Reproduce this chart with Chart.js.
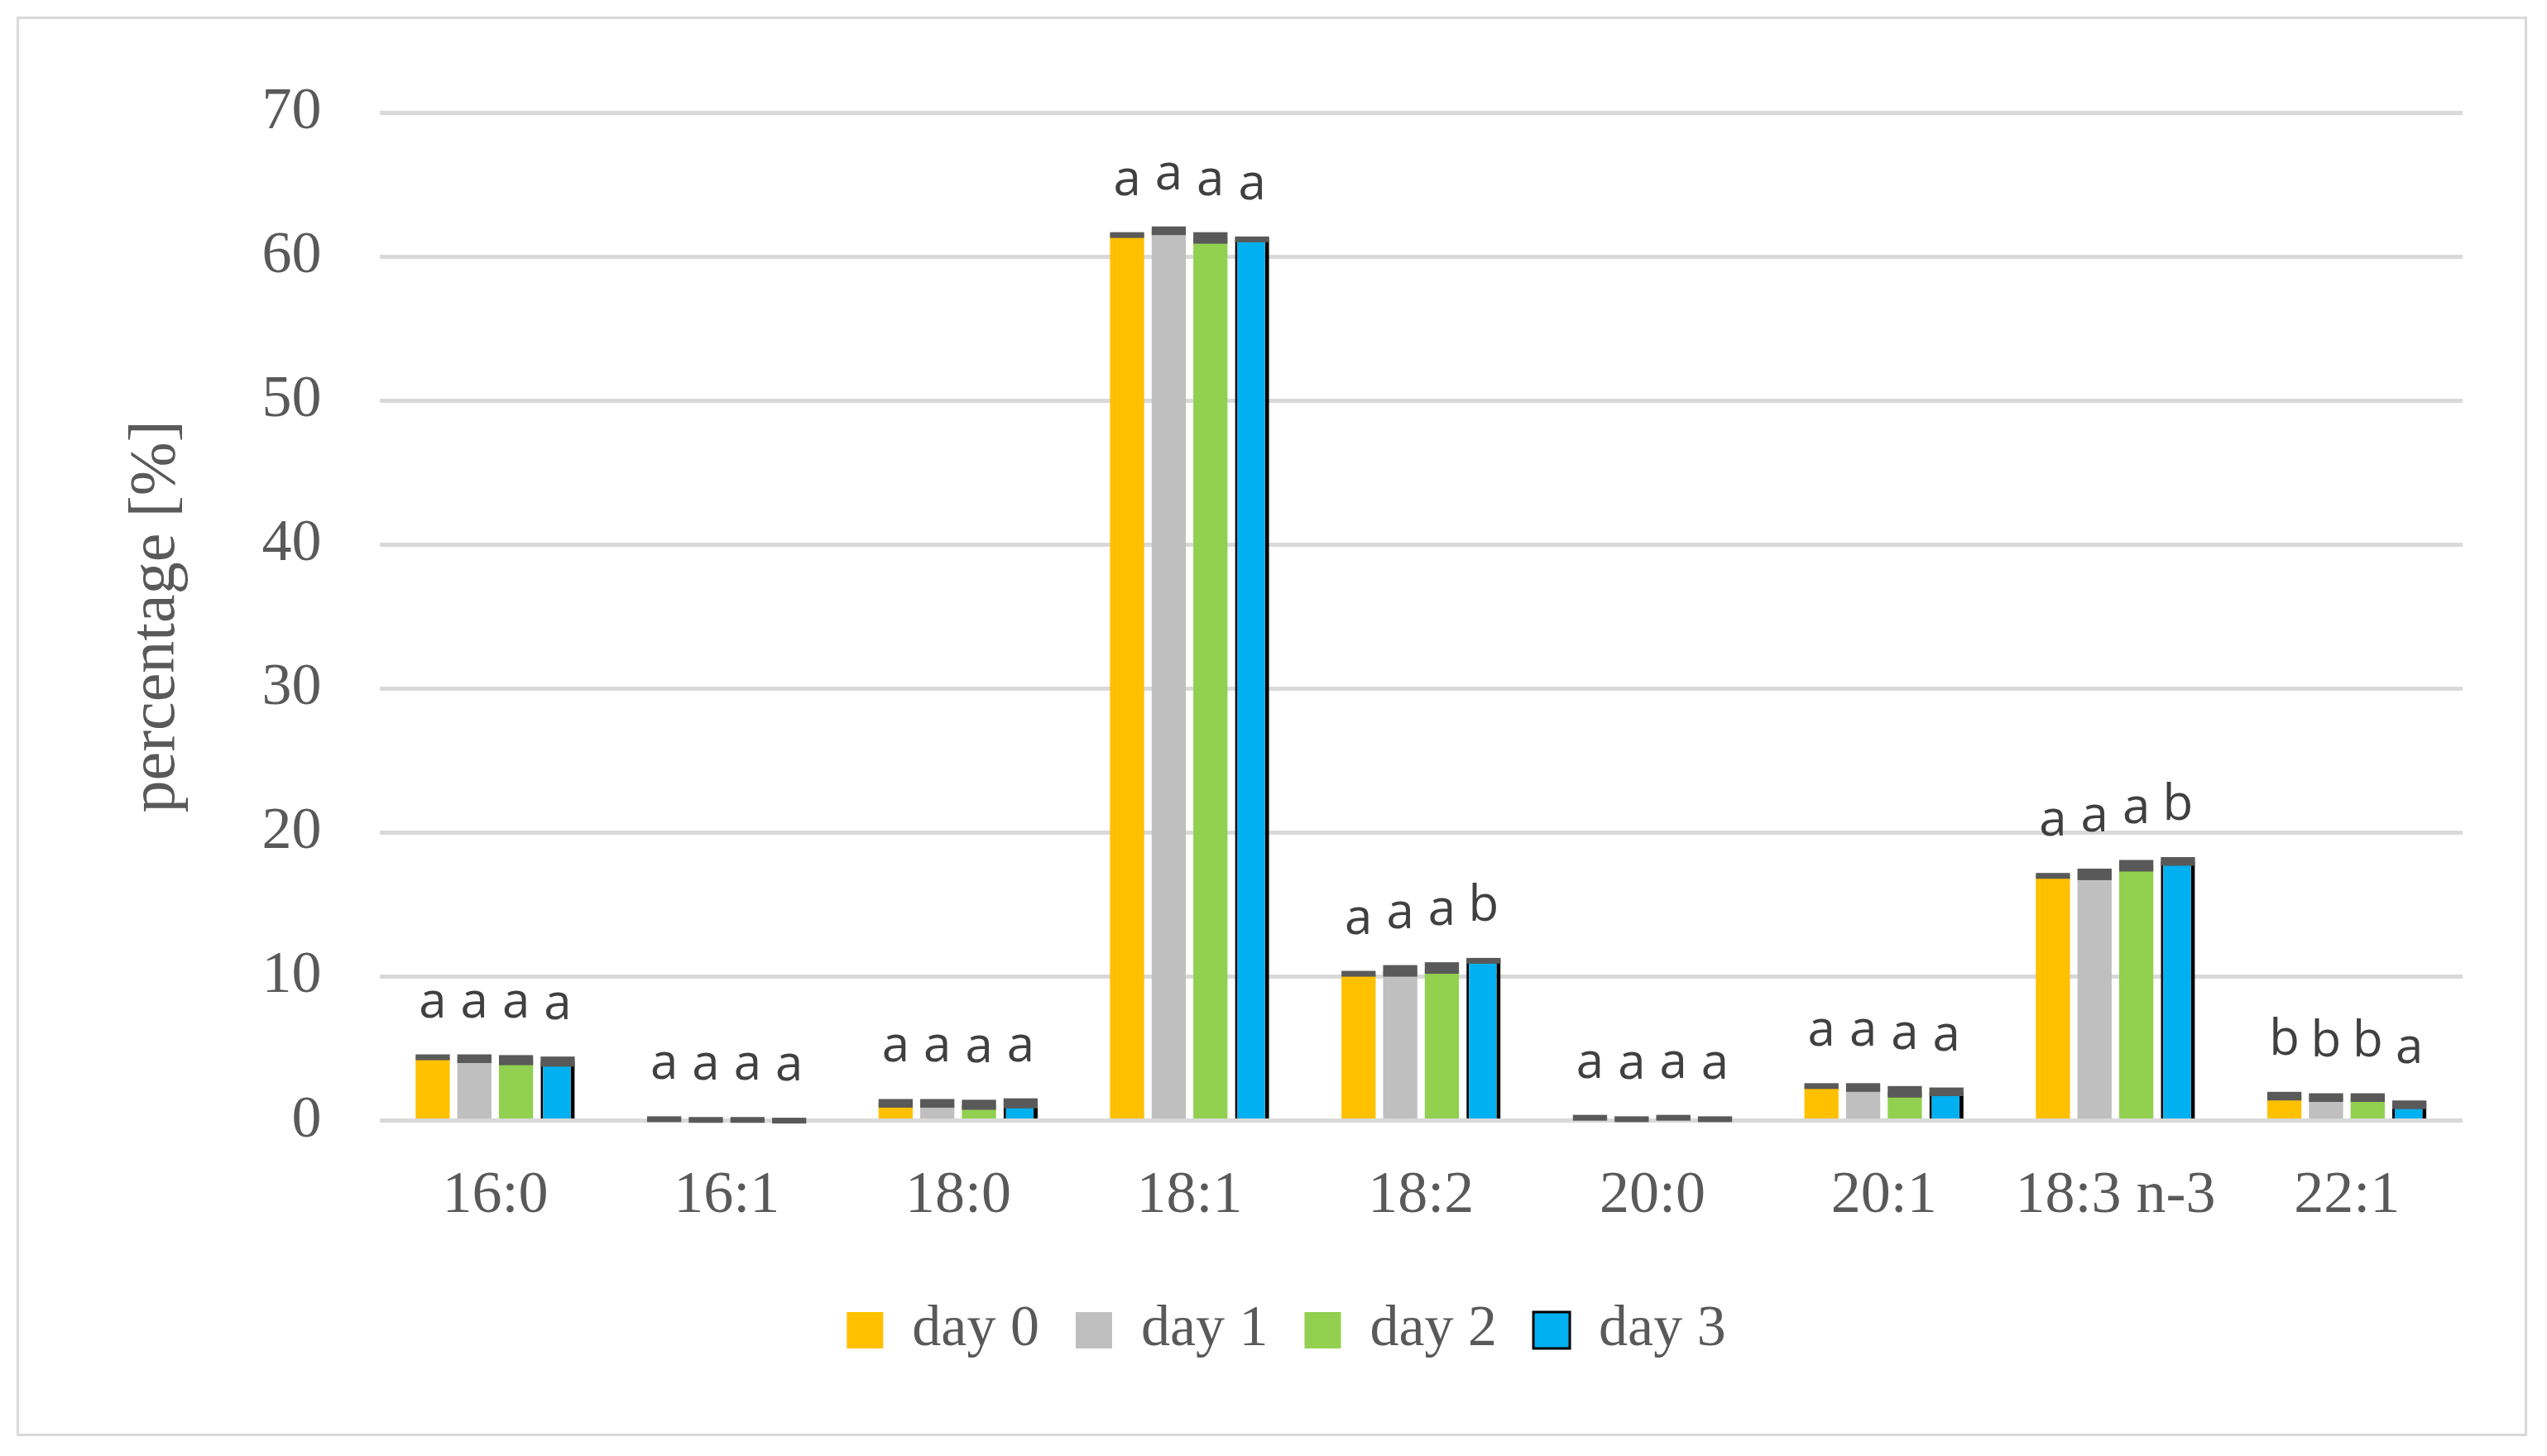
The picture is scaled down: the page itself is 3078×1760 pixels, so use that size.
<!DOCTYPE html>
<html><head><meta charset="utf-8">
<script src="https://cdn.jsdelivr.net/npm/chart.js@4"></script>
<style>html,body{margin:0;padding:0;background:#fff}#w{position:absolute;left:20px;top:20px;width:3034px;height:1716px;border:3px solid #d9d9d9;box-sizing:border-box}</style>
</head><body><div id="w"><canvas id="c"></canvas></div>
<script>
const categories=["16:0","16:1","18:0","18:1","18:2","20:0","20:1","18:3 n-3","22:1"];
const seriesNames=["day 0","day 1","day 2","day 3"];
const day0=[4.4,0.2,1.2,61.5,10.2,0.3,2.4,17.0,1.7];
const day1=[4.3,0.15,1.2,61.8,10.4,0.2,2.3,17.1,1.6];
const day2=[4.2,0.15,1.1,61.3,10.6,0.3,2.0,17.7,1.6];
const day3=[4.1,0.1,1.2,61.2,11.2,0.2,2.0,18.0,1.1];
const err0=[0.2,0.1,0.3,0.2,0.2,0.1,0.2,0.2,0.3];
const err1=[0.3,0.1,0.3,0.3,0.4,0.1,0.3,0.4,0.3];
const err2=[0.35,0.1,0.35,0.4,0.4,0.1,0.4,0.4,0.3];
const err3=[0.35,0.1,0.35,0.2,0.1,0.1,0.3,0.3,0.3];
const let0=["a","a","a","a","a","a","a","a","b"];
const let1=["a","a","a","a","a","a","a","a","b"];
const let2=["a","a","a","a","a","a","a","a","b"];
const let3=["a","a","a","a","b","a","a","b","a"];
const yTicks=[0,10,20,30,40,50,60,70];
const colors=["#ffc000","#bfbfbf","#92d050","#00b0f0"];
const errs=[err0,err1,err2,err3],lets=[let0,let1,let2,let3];
const serif="'Liberation Serif','DejaVu Serif',serif";
const plug={id:'eb',afterDatasetsDraw(ch){const c=ch.ctx,y=ch.scales.y;
 ch.data.datasets.forEach((ds,i)=>{const m=ch.getDatasetMeta(i);
  m.data.forEach((b,j)=>{const v=ds.data[j],e=errs[i][j];const w=b.width;
   const t=y.getPixelForValue(v+e),bt=y.getPixelForValue(v-e);
   c.fillStyle="#595959";c.fillRect(b.x-w/2,t,w,Math.max(bt-t,7));
   c.fillStyle="#404040";c.font="60px 'Open Sans',sans-serif";c.textAlign="center";c.textBaseline="alphabetic";
   c.fillText(lets[i][j],b.x,t-45);});});}};
new Chart(document.getElementById('c'),{type:'bar',
data:{labels:categories,datasets:[day0,day1,day2,day3].map((d,i)=>({label:seriesNames[i],data:d,backgroundColor:colors[i],borderColor:i==3?"#000":colors[i],borderWidth:i==3?{top:3,left:3,right:5,bottom:0}:0,borderSkipped:false,categoryPercentage:0.72,barPercentage:0.82}))},
plugins:[plug],
options:{responsive:true,maintainAspectRatio:false,animation:false,devicePixelRatio:1,
layout:{padding:{left:110,right:75,top:45,bottom:80}},
plugins:{tooltip:{enabled:false},legend:{position:'bottom',labels:{color:"#595959",font:{family:serif,size:70},boxWidth:44,boxHeight:44,padding:44,generateLabels(ch){return ch.data.datasets.map((d,i)=>({text:d.label,fillStyle:colors[i],strokeStyle:i==3?"#000":colors[i],lineWidth:i==3?3:0,datasetIndex:i,fontColor:"#595959"}));}}}},
scales:{x:{grid:{display:false},border:{display:false},ticks:{color:"#595959",font:{family:serif,size:72},padding:40}},
y:{min:0,max:70,afterBuildTicks(s){s.ticks=yTicks.map(v=>({value:v}));},grid:{color:"#d9d9d9",lineWidth:5,drawTicks:false},border:{display:false},
ticks:{color:"#595959",font:{family:serif,size:72},padding:70},
title:{display:true,text:"percentage [%]",color:"#595959",font:{family:serif,size:78},padding:10}}}}});
</script></body></html>
